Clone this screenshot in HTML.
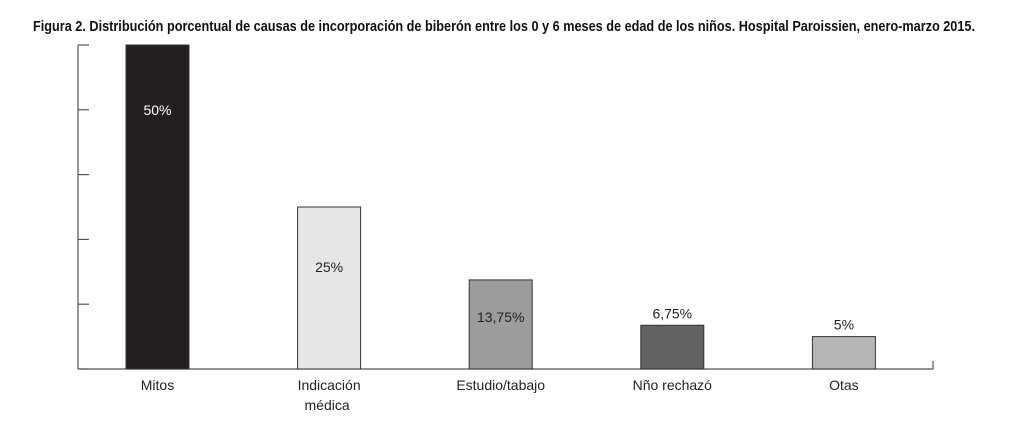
<!DOCTYPE html>
<html><head><meta charset="utf-8"><style>
body{margin:0;background:#fff;width:1015px;height:446px;overflow:hidden}
svg{display:block;font-family:"Liberation Sans",sans-serif}
</style></head><body>
<svg id="c" width="1015" height="446">
<text x="33" y="31" font-size="15" font-weight="bold" textLength="942" lengthAdjust="spacingAndGlyphs" fill="#111">Figura 2. Distribución porcentual de causas de incorporación de biberón entre los 0 y 6 meses de edad de los niños. Hospital Paroissien, enero-marzo 2015.</text>
</svg>
<script>
const categories=[["Mitos"],["Indicación","médica"],["Estudio/tabajo"],["Nño rechazó"],["Otas"]];
const values=[50,25,13.75,6.75,5];
const valueLabels=["50%","25%","13,75%","6,75%","5%"];
const fills=["#231f20","#e6e6e6","#9d9b9b","#636262","#b5b5b5"];
const yTicks=[0,10,20,30,40,50];
const NS="http://www.w3.org/2000/svg",svg=document.getElementById('c');
const y0=369,yTop=45,xAxis=78,xEnd=933;
const y=v=>y0-(v/50)*(y0-yTop);
const step=171.6,xc=i=>157.5+i*step,bw=63;
function el(t,a){const e=document.createElementNS(NS,t);for(const k in a)e.setAttribute(k,a[k]);svg.appendChild(e);return e;}
let ax=el('line',{x1:xAxis,y1:yTop,x2:xAxis,y2:y0,stroke:"#555","stroke-width":1.2});


let bx=el('path',{d:`M${xAxis} ${y0}H${xEnd}V${y0-8}`,fill:"none",stroke:"#555","stroke-width":1.2});


yTicks.forEach(t=>{const l=el('line',{x1:xAxis,x2:xAxis+11,y1:y(t),y2:y(t),stroke:"#555","stroke-width":1.2});

});
values.forEach((v,i)=>{
 const r=el('rect',{x:xc(i)-bw/2,y:y(v),width:bw,height:y0-y(v),fill:fills[i],stroke:"#333","stroke-width":1});
 
 
 const inside=v>10;
 const ly=inside?(i==0?y(v)+70:i==1?y(v)+65:y(v)+42):y(v)-7;
 const tl=el('text',{x:xc(i),y:ly,"text-anchor":"middle","font-size":14,fill:i==0?"#fff":"#222"});
 tl.textContent=valueLabels[i];
 
 
 categories[i].forEach((s,j)=>{const c=el('text',{x:xc(i)+(j==1?-2:0),y:390+j*20,"text-anchor":"middle","font-size":14,fill:"#222"});
 c.textContent=s;
 
 });
});
</script>
</body></html>
